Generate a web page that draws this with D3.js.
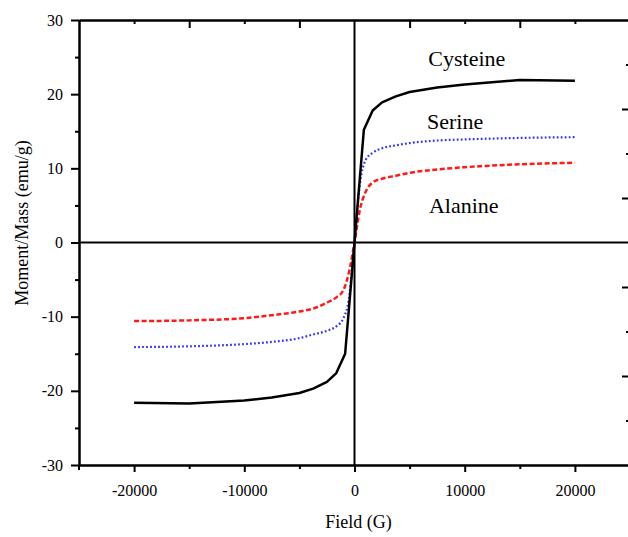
<!DOCTYPE html>
<html>
<head>
<meta charset="utf-8">
<script src="https://cdn.jsdelivr.net/npm/d3@7"></script>
<style>
  html, body { margin: 0; padding: 0; background: #fff; }
  svg { display: block; }
  svg text { font-family: "Liberation Serif", "Times New Roman", serif !important; fill: #000; }
</style>
</head>
<body>
<div id="chart"></div>
<script>
// ---- data ----
const cysteineField = [-20000, -15000, -10000, -7500, -5000, -3750, -2500, -1650, -850, 0, 850, 1650, 2500, 3750, 5000, 7500, 10000, 15000, 20000];
const cysteineMoment = [-21.6, -21.7, -21.3, -20.9, -20.3, -19.7, -18.8, -17.6, -15.0, 0, 15.2, 17.8, 18.9, 19.7, 20.3, 20.9, 21.3, 21.9, 21.8];

const serineField = [-20000, -15000, -10000, -7500, -5000, -3750, -2500, -1650, -1000, -500, 0, 500, 1000, 1650, 2500, 3750, 5000, 7500, 10000, 15000, 20000];
const serineMoment = [-14.1, -14.0, -13.7, -13.4, -12.9, -12.4, -11.9, -11.3, -10.2, -7.5, 0, 8.0, 11.1, 12.1, 12.7, 13.1, 13.4, 13.75, 13.9, 14.1, 14.2];

const alanineField = [-20000, -15000, -10000, -7500, -5000, -3750, -2500, -1650, -1000, -500, 0, 500, 1000, 1650, 2500, 3750, 5000, 7500, 10000, 15000, 20000];
const alanineMoment = [-10.6, -10.5, -10.2, -9.8, -9.3, -8.9, -8.1, -7.4, -6.4, -4.0, 0, 4.5, 6.8, 8.1, 8.6, 9.0, 9.4, 9.85, 10.15, 10.55, 10.75];

const seriesNames = ["Cysteine", "Serine", "Alanine"];

const xMajorTicks = [-20000, -10000, 0, 10000, 20000];
const xMinorTicks = [-15000, -5000, 5000, 15000];
const yMajorTicks = [-30, -20, -10, 0, 10, 20, 30];
const yMinorTicks = [-25, -15, -5, 5, 15, 25];
const topMajorTicks = [-15000, -5000, 5000, 15000];
const topMinorTicks = [-20000, -10000, 10000, 20000];
const rightMajorTicks = [-3, -1, 1, 3];
const rightMinorTicks = [-4, -2, 2, 4];

const xTitle = "Field (G)";
const yTitle = "Moment/Mass (emu/g)";

// ---- layout ----
const W = 628, H = 537;
const mLeft = 79, mRight = 630, mTop = 20, mBottom = 465;

const svg = d3.select("#chart").append("svg").attr("width", W).attr("height", H);

const x = d3.scaleLinear().domain([-25000, 25000]).range([mLeft, mRight]);
const y = d3.scaleLinear().domain([-30, 30]).range([mBottom, mTop]);
const yR = d3.scaleLinear().domain([-5, 5]).range([mBottom, mTop]);

const fmt = d => String(d);

function styleAxis(g) {
  g.attr("font-family", null).attr("font-size", null);
  g.select(".domain").attr("stroke", "#000").attr("stroke-width", 2);
  g.selectAll(".tick line").attr("stroke", "#000").attr("stroke-width", 2);
  g.selectAll(".tick text").attr("font-family", "Liberation Serif")
    .attr("font-size", 16).style("font-size", "16px").attr("fill", "#000");
}

// bottom axis
svg.append("g").attr("transform", `translate(0,${mBottom})`)
  .call(d3.axisBottom(x).tickValues(xMinorTicks).tickSize(4).tickFormat("").tickSizeOuter(0)).call(styleAxis);
svg.append("g").attr("transform", `translate(0,${mBottom})`)
  .call(d3.axisBottom(x).tickValues(xMajorTicks).tickSize(7).tickPadding(13).tickSizeOuter(0)
    .tickFormat(fmt)).call(styleAxis);

// left axis
svg.append("g").attr("transform", `translate(${mLeft},0)`)
  .call(d3.axisLeft(y).tickValues(yMinorTicks).tickSize(4).tickFormat("").tickSizeOuter(0)).call(styleAxis);
svg.append("g").attr("transform", `translate(${mLeft},0)`)
  .call(d3.axisLeft(y).tickValues(yMajorTicks).tickSize(8).tickPadding(8).tickSizeOuter(0)
    .tickFormat(fmt)).call(styleAxis);

// top axis (ticks inward)
svg.append("g").attr("transform", `translate(0,${mTop})`)
  .call(d3.axisBottom(x).tickValues(topMinorTicks).tickSize(4).tickFormat("").tickSizeOuter(0)).call(styleAxis);
svg.append("g").attr("transform", `translate(0,${mTop})`)
  .call(d3.axisBottom(x).tickValues(topMajorTicks).tickSize(8).tickFormat("").tickSizeOuter(0)).call(styleAxis);

// right axis (ticks inward)
svg.append("g").attr("transform", `translate(${mRight},0)`)
  .call(d3.axisLeft(yR).tickValues(rightMinorTicks).tickSize(4).tickFormat("").tickSizeOuter(0)).call(styleAxis);
svg.append("g").attr("transform", `translate(${mRight},0)`)
  .call(d3.axisLeft(yR).tickValues(rightMajorTicks).tickSize(8).tickFormat("").tickSizeOuter(0)).call(styleAxis);

// corner extension of left axis below
svg.append("line").attr("x1", mLeft).attr("x2", mLeft).attr("y1", mBottom).attr("y2", mBottom + 5)
  .attr("stroke", "#000").attr("stroke-width", 2);

// zero lines
svg.append("line").attr("x1", x(0)).attr("x2", x(0)).attr("y1", y(30)).attr("y2", y(-30))
  .attr("stroke", "#000").attr("stroke-width", 2);
svg.append("line").attr("x1", x(-25000)).attr("x2", x(25000)).attr("y1", y(0)).attr("y2", y(0))
  .attr("stroke", "#000").attr("stroke-width", 2);

// series
const lineLinear = d3.line().x(d => x(d[0])).y(d => y(d[1]));
const lineSmooth = d3.line().x(d => x(d[0])).y(d => y(d[1])).curve(d3.curveMonotoneX);

svg.append("path").datum(alanineField.map((f, i) => [f, alanineMoment[i]]))
  .attr("d", lineSmooth).attr("fill", "none").attr("stroke", "#ff1a1a")
  .attr("stroke-width", 2.5).attr("stroke-dasharray", "5,2.5");
svg.append("path").datum(serineField.map((f, i) => [f, serineMoment[i]]))
  .attr("d", lineSmooth).attr("fill", "none").attr("stroke", "#3333ff")
  .attr("stroke-width", 2.2).attr("stroke-dasharray", "1.8,2.2");
svg.append("path").datum(cysteineField.map((f, i) => [f, cysteineMoment[i]]))
  .attr("d", lineLinear).attr("fill", "none").attr("stroke", "#000")
  .attr("stroke-width", 2.5).attr("stroke-linejoin", "round");

// series labels
const labelPos = [[6700, 23.85], [6580, 15.26], [6760, 3.95]];
seriesNames.forEach((n, i) => {
  svg.append("text").attr("x", x(labelPos[i][0])).attr("y", y(labelPos[i][1]))
    .attr("font-family", "Liberation Serif").style("font-size", "22px").text(n);
});

// titles
svg.append("text").attr("x", x(0) + 4).attr("y", 528).attr("text-anchor", "middle")
  .attr("font-family", "Liberation Serif").style("font-size", "18px").text(xTitle);
svg.append("text").attr("transform", `translate(28,223) rotate(-90)`).attr("text-anchor", "middle")
  .attr("font-family", "Liberation Serif").style("font-size", "18px").text(yTitle);
</script>
</body>
</html>
